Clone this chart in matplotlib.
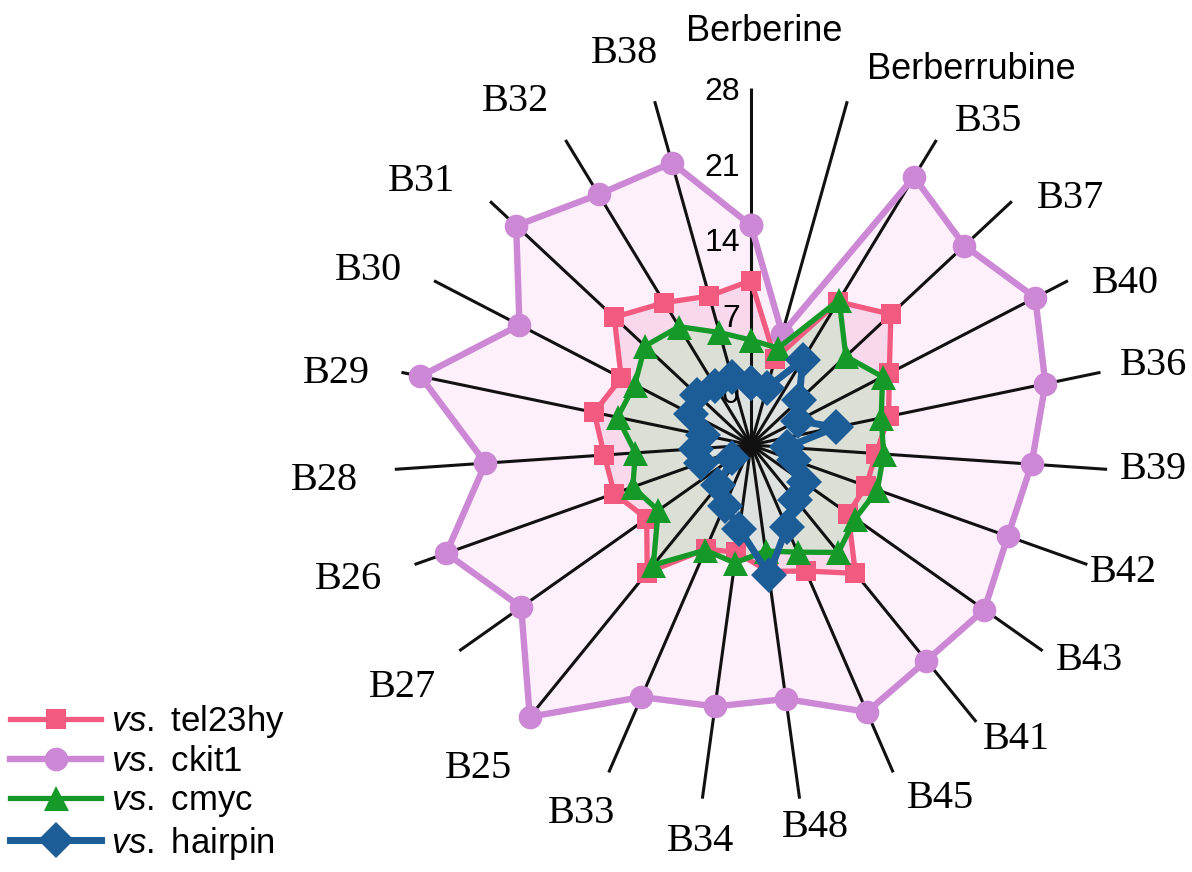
import numpy as np
import matplotlib
matplotlib.use("Agg")
import matplotlib.pyplot as plt
from matplotlib.transforms import offset_copy

plt.rcParams["mathtext.fontset"] = "custom"
plt.rcParams["mathtext.it"] = "Liberation Sans:italic"
plt.rcParams["mathtext.rm"] = "Liberation Sans"

# Compounds around the radar (clockwise from the top)
categories = ["Berberine", "Berberrubine", "B35", "B37", "B40", "B36", "B39",
              "B42", "B43", "B41", "B45", "B48", "B34", "B33", "B25", "B27",
              "B26", "B28", "B29", "B30", "B31", "B32", "B38"]

# Selectivity values against each DNA
tel23hy = [10.2, 3.3, 10.5, 12.7, 9.4, 8.0, 6.6, 6.3, 6.0, 10.3, 7.7, 6.8,
           5.0, 5.5, 10.2, 6.8, 8.4, 8.6, 9.8, 8.5, 12.3, 10.4, 9.3]
ckit1 = [15.3, 5.7, 24.0, 22.0, 24.6, 22.8, 21.0, 20.2, 21.4, 20.7, 21.9, 18.7,
         19.4, 20.4, 27.4, 21.0, 24.9, 19.6, 26.2, 19.1, 24.7, 22.1, 22.1]
cmyc = [4.7, 4.3, 10.7, 7.0, 8.7, 7.3, 7.3, 7.4, 6.8, 7.8, 5.8, 4.9,
        6.0, 5.6, 9.3, 5.5, 6.6, 5.7, 7.6, 7.1, 8.4, 7.8, 5.8]
hairpin = [0.7, 0.5, 4.2, 1.1, -0.1, 3.0, -1.7, -0.8, 1.0, 1.5, 3.3, 7.1,
           2.8, 1.1, -0.2, -2.9, -0.1, 0.1, -0.5, 1.2, 1.8, 1.4, 1.5]

r_ticks = [0, 7, 14, 21, 28]
r_min, r_max = -5, 28

# where each compound name sits (angle in degrees clockwise from top, radius)
label_angle = [1.9, 30.4, 36.3, 52.4, 66.6, 78.8, 93.5, 108.9, 122.5, 138.0,
               151.8, 170.4, 187.2, 204.7, 220.1, 235.2, 251.5, 265.3, 279.8,
               294.5, 308.7, 325.5, 342.1]
label_radius = [33.2, 35.2, 32.1, 32.3, 32.7, 32.9, 32.3, 31.4, 32.1, 31.6,
                32.1, 30.9, 31.9, 32.5, 34.1, 34.2, 34.2, 34.6, 33.9, 33.9,
                34.0, 33.5, 33.0]

fig = plt.figure(figsize=(11.92, 8.72), dpi=100)
ax = fig.add_axes([0.3305, 0.0803, 0.599, 0.8188], projection="polar")
ax.set_theta_zero_location("N")
ax.set_theta_direction(-1)
ax.set_ylim(r_min, r_max)
ax.set_xticks([])
ax.set_yticks([])
ax.grid(False)
ax.spines["polar"].set_visible(False)
ax.set_facecolor("none")

n = len(categories)
theta = np.arange(n) * 2 * np.pi / n


def closed(v):
    return np.append(theta, theta[0]), np.append(v, v[0])


series = [
    ("tel23hy", tel23hy, "#f25a80", "s", 15, 3.8, "#f9d8ec", 3, 6),
    ("ckit1", ckit1, "#cc88d4", "o", 17, 4.6, "#fdf0fb", 1, 7),
    ("cmyc", cmyc, "#159a2a", "^", 18, 3.8, "#dcdfd6", 4, 8),
    ("hairpin", hairpin, "#1d5d97", "D", 18, 5.0, "#dde2e0", 5, 9),
]

# area fills
for name, vals, col, mk, ms, lw, fillc, fz, lz in series:
    t, v = closed(vals)
    ax.fill(t, v, color=fillc, zorder=fz, lw=0, clip_on=False)

# spokes
for th in theta:
    ax.plot([th, th], [r_min, r_max], color="#111111", lw=2.2, zorder=5.5,
            solid_capstyle="butt", clip_on=False)

handles = []
for name, vals, col, mk, ms, lw, fillc, fz, lz in series:
    t, v = closed(vals)
    ln, = ax.plot(t, v, color=col, lw=lw, marker=mk, markersize=ms,
                  markeredgewidth=0, zorder=lz, clip_on=False,
                  label=r"$\mathit{vs.}$ " + name)
    handles.append(ln)

# radial tick labels beside the top spoke
tick_tf = offset_copy(ax.transData, fig=fig, x=-11, y=-4, units="dots")
for rv in r_ticks:
    ax.text(0, rv, str(rv), transform=tick_tf, ha="right", va="center",
            fontsize=23, family="Liberation Sans", zorder=5.8)

# compound names
for name, ang, rl in zip(categories, label_angle, label_radius):
    if name.startswith("Berb"):
        fam, fs = "Liberation Sans", 26
    else:
        fam, fs = "Liberation Serif", 29
    ax.text(np.deg2rad(ang), rl, name, ha="center", va="center",
            fontsize=fs, family=fam)

fig.legend(handles=handles, loc="lower left", bbox_to_anchor=(0.0, 0.0),
           frameon=False, numpoints=1, prop={"family": "Liberation Sans", "size": 25},
           handlelength=2.6, handletextpad=0.3, labelspacing=0.16,
           borderaxespad=0.2, borderpad=0.1)

fig.savefig("out.png", dpi=100, facecolor="white")
